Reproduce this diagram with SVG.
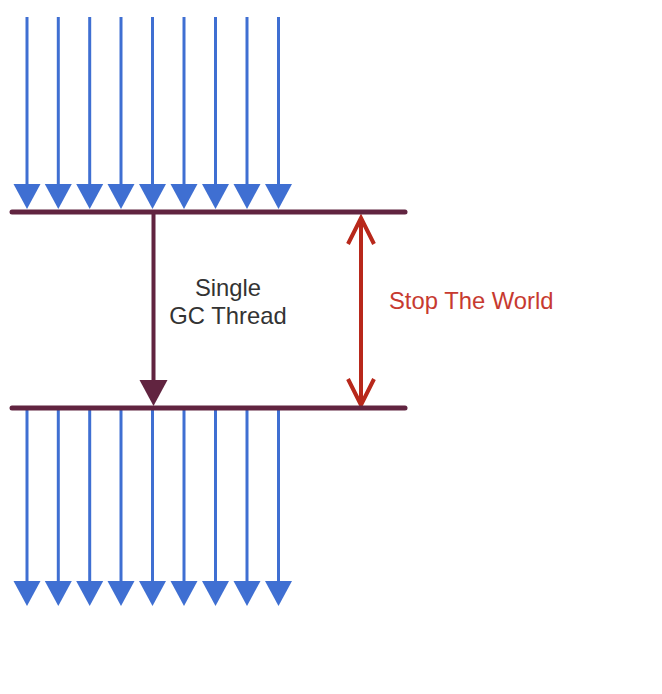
<svg xmlns="http://www.w3.org/2000/svg" width="662" height="694" viewBox="0 0 662 694">
<style>
.blue{stroke:#3f6fd2;stroke-width:3;fill:none}
.bar{stroke:#612440;stroke-width:5;stroke-linecap:round}
.gc{stroke:#612440;stroke-width:4;fill:none}
.stw{stroke:#b8281b;stroke-width:4;fill:none}
.lbl{font-family:"Liberation Sans",Arial,sans-serif;font-size:23.8px;fill:#333;text-anchor:middle}
.red{font-family:"Liberation Sans",Arial,sans-serif;font-size:23.8px;fill:#c73a30}
</style>
<rect width="662" height="694" fill="#fff"/>
<g id="connectors">
<g id="top-arrows">
<path class="blue" d="M27,17V187"/><path d="M13.5,184H40.5L27,209Z" fill="#3f6fd2"/>
<path class="blue" d="M58.3,17V187"/><path d="M44.8,184H71.8L58.3,209Z" fill="#3f6fd2"/>
<path class="blue" d="M89.7,17V187"/><path d="M76.2,184H103.2L89.7,209Z" fill="#3f6fd2"/>
<path class="blue" d="M121,17V187"/><path d="M107.5,184H134.5L121,209Z" fill="#3f6fd2"/>
<path class="blue" d="M152.5,17V187"/><path d="M139,184H166L152.5,209Z" fill="#3f6fd2"/>
<path class="blue" d="M184,17V187"/><path d="M170.5,184H197.5L184,209Z" fill="#3f6fd2"/>
<path class="blue" d="M215.5,17V187"/><path d="M202,184H229L215.5,209Z" fill="#3f6fd2"/>
<path class="blue" d="M247,17V187"/><path d="M233.5,184H260.5L247,209Z" fill="#3f6fd2"/>
<path class="blue" d="M278.5,17V187"/><path d="M265,184H292L278.5,209Z" fill="#3f6fd2"/>
</g>
<g id="bottom-arrows">
<path class="blue" d="M27,410V584"/><path d="M13.5,581H40.5L27,606Z" fill="#3f6fd2"/>
<path class="blue" d="M58.3,410V584"/><path d="M44.8,581H71.8L58.3,606Z" fill="#3f6fd2"/>
<path class="blue" d="M89.7,410V584"/><path d="M76.2,581H103.2L89.7,606Z" fill="#3f6fd2"/>
<path class="blue" d="M121,410V584"/><path d="M107.5,581H134.5L121,606Z" fill="#3f6fd2"/>
<path class="blue" d="M152.5,410V584"/><path d="M139,581H166L152.5,606Z" fill="#3f6fd2"/>
<path class="blue" d="M184,410V584"/><path d="M170.5,581H197.5L184,606Z" fill="#3f6fd2"/>
<path class="blue" d="M215.5,410V584"/><path d="M202,581H229L215.5,606Z" fill="#3f6fd2"/>
<path class="blue" d="M247,410V584"/><path d="M233.5,581H260.5L247,606Z" fill="#3f6fd2"/>
<path class="blue" d="M278.5,410V584"/><path d="M265,581H292L278.5,606Z" fill="#3f6fd2"/>
</g>
<g id="gc-thread">
<path class="gc" d="M153.5,212V383"/>
<path d="M139.5,380H167.5L153.5,406Z" fill="#612440"/>
</g>
<g id="stop-the-world">
<path class="stw" d="M361,218V404"/>
<path class="stw" d="M348,244L361,218L374,244"/>
<path class="stw" d="M348,379L361,405L374,379"/>
</g>
</g>
<g id="top-bar"><line class="bar" x1="12" y1="212" x2="405" y2="212"/></g>
<g id="bottom-bar"><line class="bar" x1="12" y1="408" x2="405" y2="408"/></g>
<g id="label-gc"><text class="lbl" x="228" y="296">Single</text><text class="lbl" x="228" y="324">GC Thread</text></g>
<g id="label-stw"><text class="red" x="389" y="309">Stop The World</text></g>
</svg>
